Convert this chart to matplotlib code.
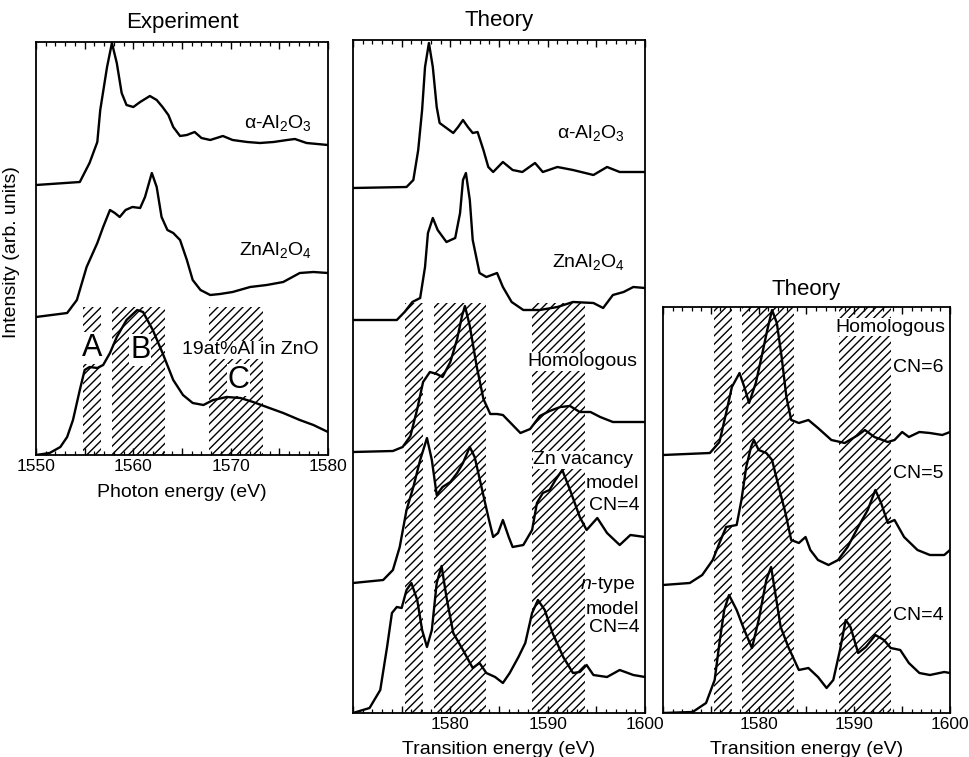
import matplotlib
matplotlib.use('Agg')
import matplotlib.pyplot as plt
from matplotlib.ticker import MultipleLocator, FuncFormatter

plt.rcParams['font.family'] = ['Liberation Sans', 'DejaVu Sans']
plt.rcParams['mathtext.fontset'] = 'custom'
plt.rcParams['mathtext.rm'] = 'Liberation Sans'
plt.rcParams['mathtext.it'] = 'Liberation Sans:italic'
plt.rcParams['mathtext.bf'] = 'Liberation Sans:bold'
plt.rcParams['hatch.linewidth'] = 1.0

# ---- Experiment (Al K-edge XANES) ----
exp_al2o3_e = [1550, 1554.5, 1555.5, 1556.3, 1556.6, 1557.3, 1557.8, 1558.3, 1558.8, 1559.3, 1560.0,
               1560.7, 1561.7, 1562.4, 1563.0, 1563.6, 1564.1, 1564.8, 1565.5, 1566.3, 1567.0, 1567.9,
               1569.2, 1570.2, 1571.7, 1573.0, 1574.4, 1575.8, 1576.6, 1577.8, 1580]
exp_al2o3_i = [0, 0.3, 2.2, 4.3, 7.5, 11.8, 14.2, 12.2, 9.2, 8.0, 7.8,
               8.3, 8.9, 8.5, 7.8, 7.0, 5.8, 4.9, 5.0, 5.3, 4.7, 4.5,
               4.9, 4.5, 4.3, 4.2, 4.3, 4.5, 4.6, 4.2, 4.0]

exp_znal2o4_e = [1550, 1553.2, 1554.2, 1555.2, 1556.3, 1556.9, 1557.6, 1558.1, 1558.6, 1559.2, 1559.9,
                 1560.7, 1561.2, 1561.9, 1562.4, 1562.9, 1563.5, 1564.1, 1564.8, 1565.5, 1566.1, 1566.9,
                 1567.9, 1568.9, 1570.2, 1572.0, 1573.7, 1575.4, 1577.1, 1578.5, 1580]
exp_znal2o4_i = [0, 0.4, 1.7, 5.0, 7.4, 9.0, 10.7, 10.4, 10.0, 10.7, 11.0,
                 10.9, 12.0, 14.4, 13.0, 10.0, 8.7, 8.4, 7.7, 5.7, 3.7, 2.7,
                 2.2, 2.3, 2.5, 3.0, 3.2, 3.5, 4.4, 4.5, 4.4]

exp_zno_e = [1550, 1551.4, 1552.5, 1553.2, 1553.8, 1554.5, 1555.0, 1555.5, 1556.3, 1556.9, 1557.6,
             1558.3, 1559.3, 1560.4, 1561.0, 1562.0, 1563.0, 1564.1, 1565.1, 1566.1, 1567.2, 1568.2,
             1569.6, 1571.0, 1572.3, 1573.7, 1575.4, 1577.1, 1578.5, 1580]
exp_zno_i = [0, 0.2, 0.8, 1.8, 3.5, 6.5, 8.5, 8.8, 8.7, 9.0, 10.2,
             11.8, 13.5, 14.5, 14.3, 12.5, 10.2, 7.5, 6.0, 5.2, 5.0, 5.5,
             5.8, 5.7, 5.3, 4.8, 4.2, 3.5, 3.0, 2.3]

exp_offsets = [27.0, 13.8, 0.0]
exp_regions = [(1554.8, 1556.7), (1557.8, 1563.3), (1567.8, 1573.3)]
exp_hatch_top = 14.8

# ---- Theory (reference compounds and models) ----
th_al2o3_e = [1570, 1575.5, 1576.2, 1576.7, 1577.1, 1577.4, 1577.8, 1578.2, 1578.6, 1578.9, 1579.6,
              1580.3, 1580.8, 1581.3, 1581.8, 1582.3, 1582.8, 1583.4, 1583.9, 1584.4, 1585.4, 1586.4,
              1587.4, 1588.7, 1589.5, 1591.0, 1592.6, 1594.7, 1596.1, 1597.4, 1599.5, 1600]
th_al2o3_i = [0, 0.1, 0.8, 3.8, 7.8, 12.1, 14.5, 12.1, 8.1, 6.5, 6.0,
              5.5, 6.1, 6.8, 6.1, 5.5, 5.6, 3.8, 2.1, 1.6, 2.6, 1.8,
              1.6, 2.5, 1.6, 2.1, 1.8, 1.3, 2.1, 1.6, 1.6, 1.6]

th_znal2o4_e = [1570, 1574.5, 1575.3, 1576.1, 1576.9, 1577.4, 1577.7, 1578.2, 1578.7, 1579.6, 1580.5,
                1581.0, 1581.3, 1581.6, 1582.0, 1582.3, 1583.0, 1583.7, 1584.8, 1585.4, 1586.3, 1587.5,
                1589.2, 1591.0, 1592.6, 1594.7, 1595.7, 1596.7, 1597.8, 1598.8, 1600]
th_znal2o4_i = [0, 0, 0.8, 1.8, 2.2, 5.3, 8.7, 10.2, 9.0, 7.8, 8.2,
                10.7, 14.0, 14.7, 12.0, 8.0, 4.7, 4.3, 4.7, 3.3, 1.8, 1.0,
                1.0, 1.3, 1.8, 1.7, 1.2, 2.5, 2.8, 3.3, 3.2]

th_homo_e = [1570, 1574.1, 1575.1, 1575.9, 1576.6, 1577.2, 1577.9, 1578.6, 1579.2, 1580.0, 1580.7,
             1581.2, 1581.5, 1582.0, 1582.7, 1583.4, 1584.1, 1584.8, 1585.4, 1586.1, 1587.2, 1588.2,
             1589.2, 1590.2, 1591.3, 1592.3, 1593.3, 1594.4, 1595.4, 1596.7, 1598.2, 1600]
th_homo_i = [0, 0.1, 0.5, 1.6, 4.3, 7.0, 8.0, 7.8, 7.5, 9.0, 11.3,
             13.6, 14.6, 12.6, 8.6, 5.3, 3.8, 3.8, 3.7, 3.0, 1.9, 2.3,
             3.6, 4.1, 4.5, 4.6, 4.0, 4.0, 3.5, 3.0, 3.0, 3.0]

th_znvac_e = [1570, 1573.1, 1574.1, 1574.8, 1575.5, 1576.2, 1576.9, 1577.6, 1578.1, 1578.6, 1579.2,
              1580.0, 1580.7, 1581.3, 1582.0, 1582.5, 1583.2, 1583.9, 1584.4, 1584.9, 1585.4, 1586.0,
              1586.4, 1587.5, 1588.4, 1588.9, 1589.5, 1590.2, 1590.8, 1591.5, 1592.3, 1593.3, 1594.0,
              1595.1, 1596.1, 1597.4, 1598.5, 1600]
th_znvac_i = [0, 0.3, 1.3, 3.6, 7.3, 9.6, 12.3, 14.5, 12.3, 8.8, 9.6,
              10.1, 11.0, 12.0, 13.6, 12.6, 9.6, 6.6, 4.6, 5.0, 6.3, 4.6,
              3.6, 3.8, 5.3, 8.0, 9.0, 9.3, 10.3, 11.3, 9.3, 6.6, 5.3,
              6.5, 5.0, 3.8, 4.8, 4.6]

th_ntype_e = [1570, 1571.7, 1572.8, 1573.5, 1574.0, 1574.5, 1575.0, 1575.5, 1576.0, 1576.6, 1577.1,
              1577.6, 1578.1, 1578.6, 1579.1, 1579.6, 1580.3, 1581.3, 1582.3, 1583.0, 1583.7, 1584.6,
              1585.4, 1586.1, 1587.0, 1587.7, 1588.4, 1589.0, 1589.7, 1590.5, 1591.6, 1592.6, 1593.3,
              1594.0, 1594.7, 1596.1, 1597.4, 1598.8, 1600]
th_ntype_i = [0, 0.5, 2.3, 6.6, 10.0, 10.6, 10.5, 12.3, 13.0, 11.3, 8.3,
              6.6, 8.3, 13.0, 14.7, 11.6, 8.0, 6.3, 4.5, 5.0, 4.0, 3.6,
              3.0, 4.0, 5.6, 7.0, 10.0, 11.3, 10.3, 8.0, 5.6, 4.0, 4.1,
              4.8, 3.8, 3.6, 4.3, 3.8, 3.6]

th_offsets = [52.5, 39.3, 26.1, 13.0, 0.0]
th_regions = [(1575.3, 1577.2), (1578.3, 1583.7), (1588.4, 1593.8)]
th_hatch_top = 41.0

# ---- Theory (homologous, coordination number) ----
cn6_e = [1570, 1574.9, 1575.9, 1576.6, 1577.2, 1578.0, 1578.5, 1579.0, 1579.7, 1580.3, 1580.9,
         1581.4, 1581.9, 1582.4, 1582.9, 1583.4, 1584.2, 1585.2, 1586.2, 1587.6, 1589.0, 1590.4,
         1591.1, 1592.1, 1593.5, 1594.2, 1595.0, 1595.7, 1596.8, 1597.9, 1599.2, 1600]
cn6_i = [0, 0.2, 1.3, 4.2, 6.8, 8.2, 6.8, 5.2, 7.2, 9.8, 12.5,
         14.5, 13.2, 9.8, 5.8, 3.5, 3.2, 3.5, 2.7, 1.5, 1.2, 2.0,
         2.5, 1.8, 1.3, 1.5, 2.3, 1.8, 2.3, 2.2, 2.0, 2.3]

cn5_e = [1570, 1572.8, 1574.1, 1575.2, 1575.9, 1576.6, 1577.7, 1578.2, 1578.7, 1579.2, 1579.5,
         1580.0, 1580.8, 1581.4, 1582.1, 1582.8, 1583.4, 1584.2, 1584.9, 1585.4, 1586.2, 1587.3,
         1588.3, 1589.3, 1590.4, 1591.4, 1592.2, 1592.8, 1593.5, 1594.2, 1595.2, 1596.6, 1597.9,
         1599.4, 1600]
cn5_i = [0, 0.2, 1.0, 2.5, 4.2, 5.8, 6.0, 8.5, 11.8, 13.8, 14.5,
         13.5, 13.2, 12.5, 9.8, 7.2, 4.5, 4.2, 4.8, 3.5, 2.5, 2.0,
         2.5, 3.8, 5.8, 7.5, 9.5, 8.2, 6.2, 6.5, 4.8, 3.5, 3.0,
         3.0, 3.5]

cn4_e = [1570, 1573.1, 1574.5, 1575.4, 1575.9, 1576.4, 1576.9, 1577.7, 1578.5, 1579.3, 1580.0,
         1580.8, 1581.3, 1581.8, 1582.3, 1583.1, 1584.2, 1585.2, 1586.2, 1587.1, 1587.8, 1588.5,
         1589.1, 1589.6, 1590.4, 1591.2, 1592.2, 1593.1, 1593.8, 1594.8, 1595.7, 1596.8, 1597.9,
         1599.4, 1600]
cn4_i = [0, 0.1, 1.0, 3.3, 7.0, 10.3, 11.8, 10.3, 8.3, 6.5, 9.3,
         13.3, 14.6, 11.6, 8.6, 6.6, 4.3, 4.5, 3.6, 2.5, 3.3, 6.3,
         9.3, 8.6, 6.0, 6.6, 7.8, 7.3, 6.5, 6.3, 5.0, 4.0, 3.8,
         4.1, 4.0]

cn_offsets = [25.8, 12.8, 0.0]

LW = 1.7


def style_axis(ax, xmin, xmax, ymax, skip=()):
    ax.set_xlim(xmin, xmax)
    ax.set_ylim(0, ymax)
    ax.xaxis.set_major_locator(MultipleLocator(5))
    ax.xaxis.set_minor_locator(MultipleLocator(1))
    ax.xaxis.set_major_formatter(FuncFormatter(
        lambda v, p: '%d' % v if (v % 10 == 0 and int(v) not in skip) else ''))
    ax.tick_params(which='both', direction='in', top=True, bottom=True,
                   left=False, right=False, labelleft=False, labelsize=12.5, pad=3)
    ax.tick_params(which='major', length=5, width=1.0)
    ax.tick_params(which='minor', length=3, width=0.9)
    for s in ax.spines.values():
        s.set_linewidth(1.3)


def hatch(ax, regions, top):
    for x0, x1 in regions:
        ax.fill_between([x0, x1], 0, top, facecolor='none', edgecolor='black',
                        hatch='////', linewidth=0, zorder=1)


def label(ax, x, y, s, size=14, ha='center', box=True, **kw):
    bb = dict(facecolor='white', edgecolor='none', pad=0.5) if box else None
    ax.text(x, y, s, fontsize=size, ha=ha, va='center', zorder=3, bbox=bb, **kw)


fig = plt.figure(figsize=(9.69, 7.57), dpi=100)

# Experiment panel
ax1 = fig.add_axes([36 / 969, 1 - 455 / 757, 292 / 969, 413 / 757])
hatch(ax1, exp_regions, exp_hatch_top)
for e, i, off in zip([exp_al2o3_e, exp_znal2o4_e, exp_zno_e],
                     [exp_al2o3_i, exp_znal2o4_i, exp_zno_i], exp_offsets):
    ax1.plot(e, [v + off for v in i], color='black', lw=LW, zorder=4)
style_axis(ax1, 1550, 1580, 41.3)
ax1.set_title('Experiment', fontsize=16, pad=10)
ax1.set_xlabel('Photon energy (eV)', fontsize=14, labelpad=7)
label(ax1, 1574.8, 33.2, 'α-Al$_2$O$_3$')
label(ax1, 1574.6, 20.5, 'ZnAl$_2$O$_4$')
label(ax1, 1572.0, 10.5, '19at%Al in ZnO')
label(ax1, 1555.8, 10.7, 'A', size=22)
label(ax1, 1560.7, 10.5, 'B', size=22)
label(ax1, 1570.8, 7.5, 'C', size=22)
fig.text(12 / 969, 1 - 252 / 757, 'Intensity (arb. units)', rotation=90,
         fontsize=14, ha='center', va='center')

# Theory: compounds and models
ax2 = fig.add_axes([353 / 969, 1 - 713 / 757, 292 / 969, 673 / 757])
hatch(ax2, th_regions, th_hatch_top)
for e, i, off in zip([th_al2o3_e, th_znal2o4_e, th_homo_e, th_znvac_e, th_ntype_e],
                     [th_al2o3_i, th_znal2o4_i, th_homo_i, th_znvac_i, th_ntype_i], th_offsets):
    ax2.plot(e, [v + off for v in i], color='black', lw=LW, zorder=4)
style_axis(ax2, 1570, 1600, 67.3, skip=(1570,))
ax2.set_title('Theory', fontsize=16, pad=10)
ax2.set_xlabel('Transition energy (eV)', fontsize=14, labelpad=6)
label(ax2, 1594.4, 58.0, 'α-Al$_2$O$_3$')
label(ax2, 1594.2, 45.1, 'ZnAl$_2$O$_4$')
label(ax2, 1593.6, 35.1, 'Homologous')
label(ax2, 1598.8, 25.3, 'Zn vacancy', ha='right')
label(ax2, 1599.4, 23.0, 'model', ha='right', box=False)
label(ax2, 1599.4, 20.8, 'CN=4', ha='right', box=False)
label(ax2, 1599.0, 12.8, '$n$-type', ha='right', box=False)
label(ax2, 1599.4, 10.3, 'model', ha='right', box=False)
label(ax2, 1599.4, 8.5, 'CN=4', ha='right', box=False)

# Theory: homologous by coordination number
ax3 = fig.add_axes([663 / 969, 1 - 713 / 757, 287 / 969, 406 / 757])
hatch(ax3, th_regions, 40.6)
for e, i, off in zip([cn6_e, cn5_e, cn4_e], [cn6_i, cn5_i, cn4_i], cn_offsets):
    ax3.plot(e, [v + off for v in i], color='black', lw=LW, zorder=4)
style_axis(ax3, 1570, 1600, 40.6, skip=(1570,))
ax3.set_title('Theory', fontsize=16, pad=9)
ax3.set_xlabel('Transition energy (eV)', fontsize=14, labelpad=6)
label(ax3, 1599.5, 38.6, 'Homologous', ha='right')
label(ax3, 1599.3, 34.6, 'CN=6', ha='right')
label(ax3, 1599.3, 24.0, 'CN=5', ha='right')
label(ax3, 1599.3, 9.8, 'CN=4', ha='right')

fig.savefig('out.png', dpi=100)
